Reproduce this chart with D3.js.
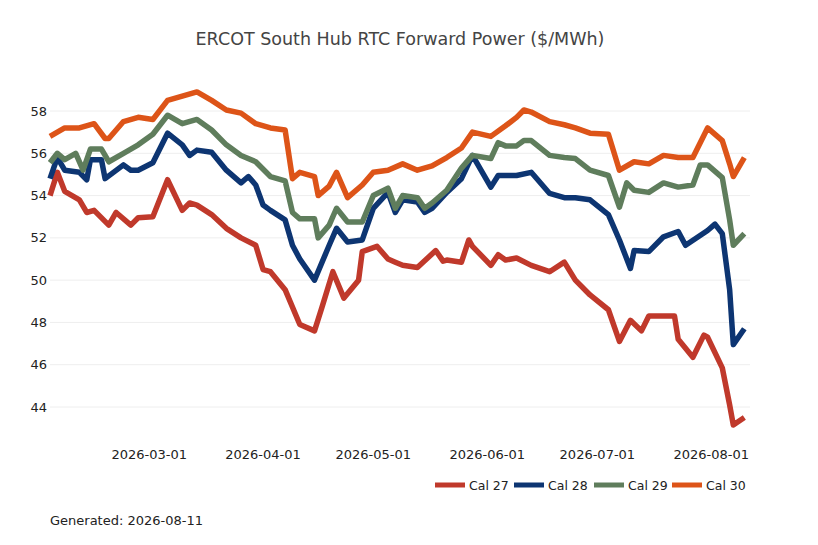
<!DOCTYPE html>
<html><head><meta charset="utf-8">
<script src="https://cdn.jsdelivr.net/npm/d3@7"></script>
<style>body{margin:0;background:#fff;font-family:"DejaVu Sans",sans-serif;}</style>
</head><body><svg id="c" width="818" height="545"></svg>
<script>
// day offsets from 2026-02-02 and prices ($/MWh)
const cal27Days = [0,2,4,8,10,12,16,18,22,24,28,32,36,38,40,44,48,52,56,58,60,64,68,72,74,77,80,84,85,89,92,94,96,100,105,107,108,112,114,115,120,122,124,127,131,136,140,143,147,152,155,158,161,163,167,170,171,175,178,179,183,185,186,189];
const cal27 = [54.0,55.1,54.2,53.8,53.2,53.3,52.6,53.2,52.6,52.95,53.0,54.75,53.3,53.65,53.55,53.1,52.45,52.0,51.65,50.5,50.4,49.55,47.9,47.6,48.7,50.4,49.15,50.0,51.35,51.6,51.0,50.85,50.7,50.6,51.4,50.9,50.95,50.85,51.9,51.6,50.7,51.2,50.95,51.05,50.7,50.4,50.85,50.0,49.3,48.6,47.1,48.1,47.6,48.3,48.3,48.3,47.2,46.35,47.4,47.3,45.85,44.1,43.15,43.5];
const cal28Days = [0,2,4,8,10,11,14,15,20,22,24,28,32,36,38,40,44,48,52,54,56,58,60,64,66,68,72,76,78,81,85,88,92,94,96,100,102,104,108,112,115,120,122,127,131,136,140,143,147,152,155,158,159,163,167,171,173,179,181,183,185,186,189];
const cal28 = [54.8,55.8,55.2,55.1,54.75,55.7,55.7,54.8,55.45,55.2,55.2,55.55,56.95,56.4,55.9,56.15,56.05,55.2,54.6,54.9,54.5,53.55,53.3,52.85,51.65,51.0,50.0,51.65,52.45,51.8,51.9,53.4,54.15,53.2,53.8,53.7,53.2,53.4,54.15,54.8,55.9,54.4,54.95,54.95,55.1,54.1,53.9,53.9,53.8,53.1,51.9,50.55,51.4,51.35,52.05,52.3,51.65,52.35,52.65,52.2,49.55,46.95,47.7];
const cal29Days = [0,2,4,7,9,11,14,16,20,24,28,32,36,40,44,48,52,56,60,64,66,68,72,73,76,78,81,85,88,92,94,96,100,102,104,108,112,115,120,122,124,127,129,131,136,140,143,147,152,155,157,159,163,167,171,175,177,179,183,185,186,189];
const cal29 = [55.55,56.0,55.7,56.0,55.2,56.2,56.2,55.6,56.0,56.4,56.9,57.8,57.4,57.6,57.1,56.4,55.9,55.6,54.9,54.7,53.2,52.9,52.9,52.0,52.6,53.4,52.75,52.75,54.0,54.35,53.4,54.0,53.9,53.4,53.65,54.25,55.3,55.9,55.75,56.5,56.35,56.35,56.6,56.6,55.9,55.8,55.75,55.2,54.95,53.45,54.6,54.25,54.15,54.6,54.4,54.5,55.45,55.45,54.85,52.85,51.65,52.2];
const cal30Days = [0,4,8,12,15,16,20,24,28,32,36,40,44,48,52,56,60,64,66,68,72,73,76,78,81,85,88,92,96,100,104,108,112,115,120,124,127,129,131,136,140,143,147,152,155,159,163,167,171,175,179,183,185,186,189];
const cal30 = [56.8,57.2,57.2,57.4,56.7,56.7,57.5,57.7,57.6,58.5,58.7,58.9,58.5,58.05,57.9,57.4,57.2,57.1,54.8,55.1,54.9,54.0,54.45,55.1,53.9,54.5,55.1,55.2,55.5,55.2,55.4,55.8,56.25,57.0,56.8,57.3,57.7,58.05,57.95,57.5,57.35,57.2,56.95,56.9,55.2,55.6,55.5,55.9,55.8,55.8,57.2,56.6,55.5,54.9,55.8];
const seriesNames = ["Cal 27","Cal 28","Cal 29","Cal 30"];
const seriesColors = ["#c0392b","#0d3572","#5f7d5c","#dd5418"];
const yTicks = [44,46,48,50,52,54,56,58];
const xTicks = ["2026-03-01","2026-04-01","2026-05-01","2026-06-01","2026-07-01","2026-08-01"];
const startDate = "2026-02-02", endDate = "2026-08-11";

const parse = d3.utcParse("%Y-%m-%d");
const base = parse(startDate);
const svg = d3.select("#c");
const x = d3.scaleUtc().domain([base, parse(endDate)]).range([50, 748]);
const y = d3.scaleLinear().domain([44, 58]).range([407, 111]);

svg.append("text").attr("x", 400).attr("y", 45).attr("text-anchor", "middle")
  .attr("font-size", 17.5).attr("fill", "#444").text("ERCOT South Hub RTC Forward Power ($/MWh)");

svg.append("g").selectAll("line").data(yTicks).enter().append("line")
  .attr("x1", 50).attr("x2", 750).attr("y1", d => y(d)).attr("y2", d => y(d))
  .attr("stroke", "#eeeeee").attr("stroke-width", 1);
svg.append("g").selectAll("text").data(yTicks).enter().append("text")
  .attr("x", 47).attr("y", d => y(d) + 4.5).attr("text-anchor", "end")
  .attr("font-size", 13).attr("fill", "#222").text(d => d);
svg.append("g").selectAll("text").data(xTicks).enter().append("text")
  .attr("x", d => x(parse(d))).attr("y", 459).attr("text-anchor", "middle")
  .attr("font-size", 13).attr("fill", "#222").text(d => d);

const all = [[cal27Days, cal27], [cal28Days, cal28], [cal29Days, cal29], [cal30Days, cal30]];
const line = d3.line().x(d => x(d3.utcDay.offset(base, d[0]))).y(d => y(d[1]));
all.forEach(([days, vals], i) => {
  svg.append("path").datum(days.map((d, k) => [d, vals[k]]))
    .attr("d", line).attr("fill", "none").attr("stroke", seriesColors[i])
    .attr("stroke-width", 5.5).attr("stroke-linejoin", "round");
});

const lg = svg.append("g");
const lx = [435, 514, 594, 672];
seriesNames.forEach((n, i) => {
  lg.append("line").attr("x1", lx[i]).attr("x2", lx[i] + 30).attr("y1", 485).attr("y2", 485)
    .attr("stroke", seriesColors[i]).attr("stroke-width", 5);
  lg.append("text").attr("x", lx[i] + 34).attr("y", 490).attr("font-size", 12.5).attr("fill", "#222").text(n);
});

svg.append("text").attr("x", 50).attr("y", 525).attr("font-size", 13).attr("fill", "#222").text("Generated: 2026-08-11");
</script></body></html>
